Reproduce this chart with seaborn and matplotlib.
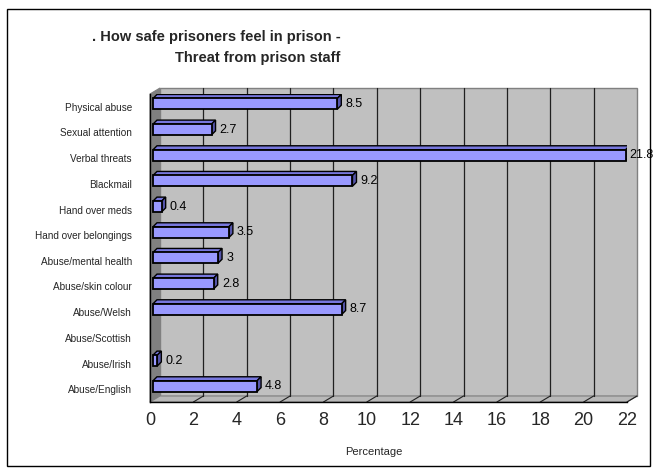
import numpy as np
import matplotlib
matplotlib.use("Agg")
import matplotlib.pyplot as plt
from matplotlib.patches import Rectangle, Polygon
from matplotlib.lines import Line2D
from matplotlib.transforms import ScaledTranslation
import seaborn as sns

categories = [
    "Physical abuse", "Sexual attention", "Verbal threats", "Blackmail",
    "Hand over meds", "Hand over belongings", "Abuse/mental health",
    "Abuse/skin colour", "Abuse/Welsh", "Abuse/Scottish", "Abuse/Irish",
    "Abuse/English",
]
values = [8.5, 2.7, 21.8, 9.2, 0.4, 3.5, 3, 2.8, 8.7, np.nan, 0.2, 4.8]
x_ticks = list(range(0, 23, 2))

sns.set_style("white")
plt.rcParams["font.family"] = ["Liberation Sans", "DejaVu Sans"]

W, H = 656, 472
fig = plt.figure(figsize=(W / 100, H / 100), dpi=100)
fig.patch.set_facecolor("white")

# front plane of the plot box
ax = fig.add_axes([150 / W, 70 / H, 477 / W, 308 / H])
ax.set_facecolor("none")

sns.barplot(x=values, y=categories, orient="h", color="#9999FF",
            width=0.42, edgecolor="black", linewidth=1.3, saturation=1,
            ax=ax, zorder=5)
bars = [q for q in ax.patches if isinstance(q, Rectangle)]

ax.set_xlim(0, 22)
ax.set_ylim(11.5, -0.5)

# 3D box: back wall, side wall and floor, offset in pixels
dxp, dyp = 10, 6
dx, dy = dxp / 477, dyp / 308
wall = Rectangle((dx, dy), 1, 1, transform=ax.transAxes, facecolor="#C0C0C0",
                 edgecolor="#808080", lw=1, zorder=0, clip_on=False)
ax.add_patch(wall)
side = Polygon([(0, 0), (dx, dy), (dx, 1 + dy), (0, 1)], closed=True,
               transform=ax.transAxes, facecolor="#808080", edgecolor="#808080",
               lw=0.8, zorder=0.5, clip_on=False)
ax.add_patch(side)
floor = Polygon([(0, 0), (1, 0), (1 + dx, dy), (dx, dy)], closed=True,
                transform=ax.transAxes, facecolor="#B8B8B8", edgecolor="#808080",
                lw=0.8, zorder=0.6, clip_on=False)
ax.add_patch(floor)
for v in x_ticks[1:-1]:
    fx = v / 22
    ax.add_line(Line2D([fx + dx, fx + dx], [dy, 1 + dy], transform=ax.transAxes,
                       color="#202020", lw=0.9, zorder=1, clip_on=False))
for v in x_ticks[1:]:
    fx = v / 22
    ax.add_line(Line2D([fx, fx + dx], [0, dy], transform=ax.transAxes,
                       color="#202020", lw=0.8, zorder=1, clip_on=False))

# bars sit halfway into the depth; add their top and end faces
shift = ax.transData + ScaledTranslation(3 / 100, 3 / 100, fig.dpi_scale_trans)
ddx = 4 / (477 / 22)
ddy = -4 / (308 / 12)
for p in bars:
    x0, y0, w, h = p.get_x(), p.get_y(), p.get_width(), p.get_height()
    if not np.isfinite(w) or w == 0:
        continue
    p.set_transform(shift)
    top = Polygon([(x0, y0), (x0 + w, y0), (x0 + w + ddx, y0 + ddy), (x0 + ddx, y0 + ddy)],
                  closed=True, transform=shift, facecolor="#7777DD",
                  edgecolor="black", lw=1.0, zorder=4.9)
    end = Polygon([(x0 + w, y0), (x0 + w + ddx, y0 + ddy), (x0 + w + ddx, y0 + h + ddy), (x0 + w, y0 + h)],
                  closed=True, transform=shift, facecolor="#5555AA",
                  edgecolor="black", lw=1.0, zorder=4.9)
    ax.add_patch(top)
    ax.add_patch(end)

# value labels (the longest bar keeps its label tight against the bar end)
for i, v in enumerate(values):
    if not np.isfinite(v):
        continue
    gap = 4.5 if v > 20 else 8
    ax.annotate(f"{v:g}", xy=(v, i), xytext=(gap, 2), textcoords="offset points",
                ha="left", va="center", fontsize=9, color="black",
                annotation_clip=False, zorder=6)

# axes styling
for s in ["top", "right"]:
    ax.spines[s].set_visible(False)
for s in ["left", "bottom"]:
    ax.spines[s].set_color("black")
    ax.spines[s].set_linewidth(1.0)
    ax.spines[s].set_zorder(7)

ax.set_xticks(x_ticks)
ax.set_xticklabels([str(t) for t in x_ticks])
ax.tick_params(axis="x", which="major", direction="out", length=4, width=0.8,
               labelsize=13, pad=3, color="black")
ax.set_yticks(range(len(categories)))
ax.set_yticklabels(categories)
ax.tick_params(axis="y", which="major", length=0, labelsize=7.2, pad=13)
ax.set_yticks(np.arange(-0.5, 12, 1), minor=True)
ax.tick_params(axis="y", which="minor", direction="out", length=4, width=0.8,
               color="black")
ax.set_xlabel("")
ax.set_ylabel("")

fig.text(374 / W, 1 - 452 / H, "Percentage", ha="center", va="center", fontsize=8)

fig.text(92 / W, 1 - 37 / H, ". How safe prisoners feel in prison -",
         ha="left", va="center", fontsize=10.5, fontweight="bold")
fig.text(175 / W, 1 - 58 / H, "Threat from prison staff",
         ha="left", va="center", fontsize=10.5, fontweight="bold")

# outer frame
fig.add_artist(Rectangle((7 / W, 6 / H), 643 / W, 457 / H, transform=fig.transFigure,
                         fill=False, edgecolor="black", lw=1))

fig.savefig("out.png", dpi=100)
